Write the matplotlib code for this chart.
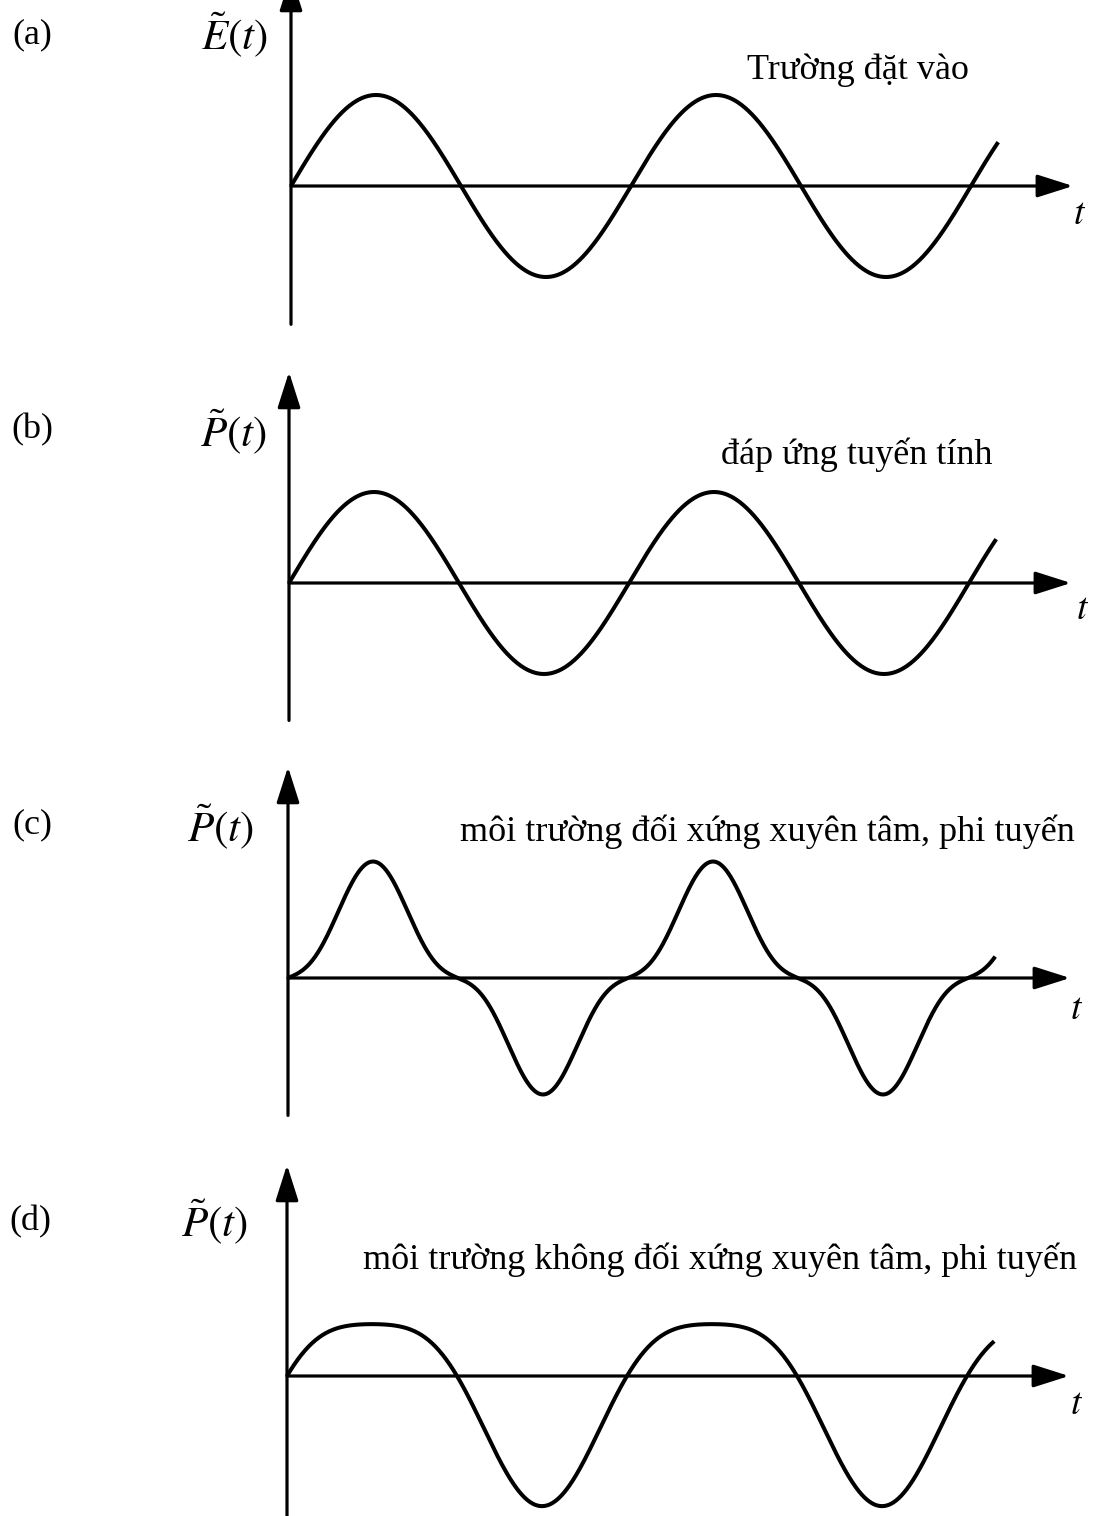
import numpy as np
import matplotlib
matplotlib.use("Agg")
import matplotlib.pyplot as plt

plt.rcParams["font.family"] = ["Liberation Serif", "DejaVu Serif"]
plt.rcParams["mathtext.fontset"] = "stix"

W, H = 1093, 1516

panel_tags = ["(a)", "(b)", "(c)", "(d)"]
axis_names = [r"$\tilde{E}(t)$", r"$\tilde{P}(t)$", r"$\tilde{P}(t)$", r"$\tilde{P}(t)$"]
captions = [
    "Trường đặt vào",
    "đáp ứng tuyến tính",
    "môi trường đối xứng xuyên tâm, phi tuyến",
    "môi trường không đối xứng xuyên tâm, phi tuyến",
]

# response P = chi1*E + chi2*E^2 + chi3*E^3 to a unit field E = sin(2 pi t)
chi1 = [1.0, 1.0, 0.25, 1.0]
chi2 = [0.0, 0.0, 0.0, -0.43]
chi3 = [0.0, 0.0, 1.03, 0.0]
n_periods = 2.08          # curve runs just past two full periods
t_axis_end = 2.30         # arrow tip of the time axis, in periods
y_axis_top = 2.32
y_axis_bottom = [-1.52, -1.51, -1.51, -1.70]

# layout in pixels: origin of each panel, one period width, unit amplitude height
origin_x = [291, 289, 288, 287]
origin_y = [186, 583, 978, 1376]
period_px = 340
unit_px = 91
band_h = H / 4

tag_pos = [(32, 35), (32, 430), (32, 825), (30, 1222)]
name_pos = [(234, 35), (233, 432), (220, 827), (214, 1222)]
caption_pos = [(858, 70), (857, 455), (767, 832), (720, 1260)]
t_pos = [(1080, 215), (1083, 610), (1077, 1010), (1077, 1405)]

fig = plt.figure(figsize=(W / 100, H / 100), dpi=100)


def fx(px):
    return px / W


def fy(py):
    return 1 - py / H


arrow = dict(arrowstyle="-|>,head_length=2.2,head_width=0.7",
             color="black", lw=2.3, shrinkA=0, shrinkB=0)

for i in range(4):
    top = i * band_h
    ax = fig.add_axes([0, fy(top + band_h), 1, band_h / H])
    ax.set_xlim(-origin_x[i] / period_px, (W - origin_x[i]) / period_px)
    ax.set_ylim(-(top + band_h - origin_y[i]) / unit_px, (origin_y[i] - top) / unit_px)
    ax.axis("off")

    # axes with arrow heads
    ax.annotate("", xy=(t_axis_end, 0), xytext=(0, 0), arrowprops=arrow,
                annotation_clip=False)
    ax.annotate("", xy=(0, y_axis_top), xytext=(0, y_axis_bottom[i]), arrowprops=arrow,
                annotation_clip=False)

    t = np.linspace(0, n_periods, 800)
    e = np.sin(2 * np.pi * t)
    p = chi1[i] * e + chi2[i] * e ** 2 + chi3[i] * e ** 3
    ax.plot(t, p, color="black", lw=2.9, solid_capstyle="butt", clip_on=False)

    fig.text(fx(tag_pos[i][0]), fy(tag_pos[i][1]), panel_tags[i],
             ha="center", va="center", fontsize=26)
    fig.text(fx(name_pos[i][0]), fy(name_pos[i][1]), axis_names[i],
             ha="center", va="center", fontsize=31)
    fig.text(fx(caption_pos[i][0]), fy(caption_pos[i][1]), captions[i],
             ha="center", va="center", fontsize=26)
    fig.text(fx(t_pos[i][0]), fy(t_pos[i][1]), r"$t$",
             ha="center", va="center", fontsize=27)

fig.savefig("out.png", dpi=100, facecolor="white")
